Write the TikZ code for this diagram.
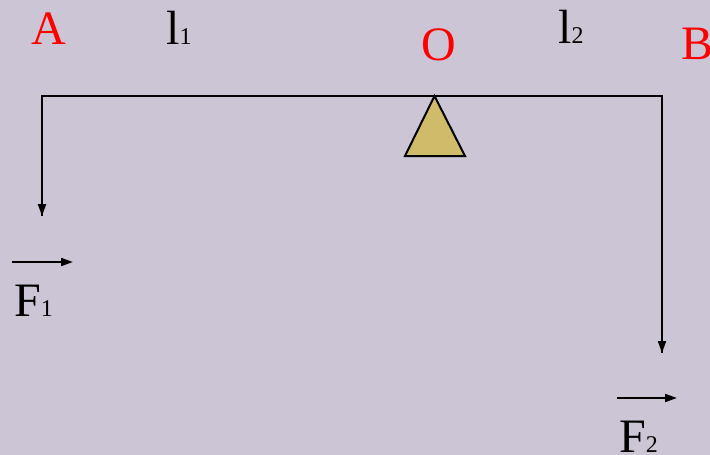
\documentclass[tikz,border=0pt]{standalone}
\usepackage{fontspec}
\setmainfont{Liberation Serif}
\usetikzlibrary{arrows.meta}
\definecolor{bg}{HTML}{CBC5D5}
\definecolor{fulcrum}{HTML}{CFBB6A}
\definecolor{lab}{HTML}{FF0000}
\begin{document}
\begin{tikzpicture}[x=1pt,y=-1pt,
  big/.style={inner sep=0pt,anchor=base west,font=\fontsize{48}{50}\selectfont},
  red label/.style={big,text=lab},
  line/.style={line width=2pt,draw=black},
  force/.style={line,-{Triangle[length=12pt,width=8pt]}}]
\newcommand{\sbs}[1]{{\fontsize{24}{24}\selectfont #1}}
\fill[bg] (0,0) rectangle (710,455);
\useasboundingbox (0,0) rectangle (710,455);
% labels
\node[red label] (A) at (31,44) {A};
\node[big] (l1) at (166,44) {l\sbs{1}};
\node[red label] (O) at (421,60) {O};
\node[big] (l2) at (558,43) {l\sbs{2}};
\node[red label] (B) at (681,59) {B};
\node[big] (F1) at (14,316) {F\sbs{1}};
\node[big] (F2) at (619,452) {F\sbs{2}};
% beam
\coordinate (pA) at (42,96);
\coordinate (pB) at (662,96);
\coordinate (tA) at (42,216);
\coordinate (tB) at (662,353);
\draw[line,line join=miter] (tA) -- (pA) -- (pB) -- (tB);
\draw[force] (pA) -- (tA);
\draw[force] (pB) -- (tB);
% fulcrum
\coordinate (apex) at (434.5,96);
\coordinate (bl) at (405,156);
\coordinate (br) at (465,156);
\filldraw[fill=fulcrum,line width=2pt,line join=miter] (apex) -- (bl) -- (br) -- cycle;
% force vector arrows
\coordinate (f1s) at (12,262);
\coordinate (f1e) at (73,262);
\coordinate (f2s) at (617,398);
\coordinate (f2e) at (677,398);
\draw[force] (f1s) -- (f1e);
\draw[force] (f2s) -- (f2e);
\end{tikzpicture}
\end{document}
